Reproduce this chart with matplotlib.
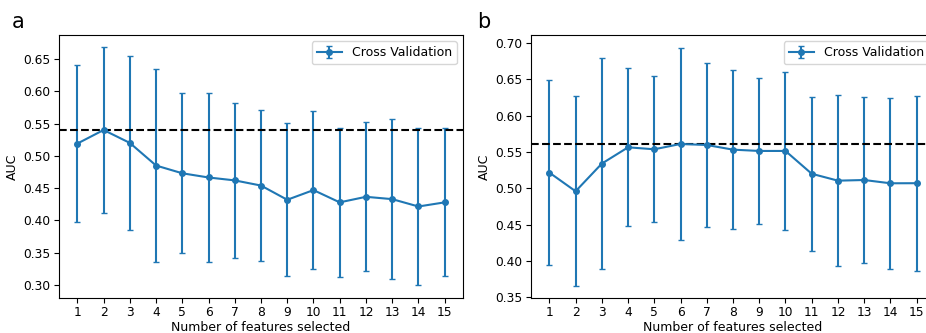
import matplotlib
matplotlib.use("Agg")
import matplotlib.pyplot as plt
import numpy as np

features = list(range(1, 16))

auc_a = [0.519, 0.540, 0.520, 0.485, 0.473, 0.4665, 0.462, 0.454, 0.432, 0.447,
         0.428, 0.4366, 0.433, 0.4216, 0.428]
std_a = [0.121, 0.1285, 0.134, 0.150, 0.124, 0.1305, 0.1205, 0.1175, 0.1185, 0.122,
         0.1155, 0.115, 0.1235, 0.122, 0.1145]

auc_b = [0.5216, 0.4959, 0.534, 0.5564, 0.5537, 0.561, 0.5596, 0.5532, 0.5514, 0.5514,
         0.520, 0.5105, 0.5114, 0.5069, 0.507]
std_b = [0.127, 0.1305, 0.145, 0.1087, 0.1004, 0.1324, 0.1129, 0.109, 0.1004, 0.1087,
         0.106, 0.1179, 0.1145, 0.1177, 0.1202]

panel_labels = ["a", "b"]
legend_label = "Cross Validation"
xlabel = "Number of features selected"
ylabel = "AUC"

W, H = 926, 333
fig = plt.figure(figsize=(W / 100, H / 100), dpi=100)

positions = [
    [59 / W, (H - 298) / H, 404 / W, 263 / H],
    [531 / W, (H - 298) / H, 404 / W, 263 / H],
]
ylims = [(0.280, 0.687), (0.349, 0.711)]
label_x = [12 / W, 477 / W]

for i, (auc, std) in enumerate([(auc_a, std_a), (auc_b, std_b)]):
    ax = fig.add_axes(positions[i])
    ax.errorbar(features, auc, yerr=std, color="#1f77b4", marker="o", markersize=4,
                capsize=2, linewidth=1.5, elinewidth=1.5, label=legend_label)
    ax.axhline(max(auc), color="black", linestyle="--", linewidth=1.5)
    ax.set_xlim(0.3, 15.7)
    ax.set_ylim(*ylims[i])
    ax.set_xticks(features)
    ax.tick_params(labelsize=8.8, pad=2.5)
    ax.set_xlabel(xlabel, fontsize=9, labelpad=1)
    ax.set_ylabel(ylabel, fontsize=9, labelpad=3)
    ax.legend(loc="upper right", fontsize=9)
    fig.text(label_x[i], 0.916, panel_labels[i], fontsize=15, ha="left", va="baseline")

fig.savefig("out.png", dpi=100)
